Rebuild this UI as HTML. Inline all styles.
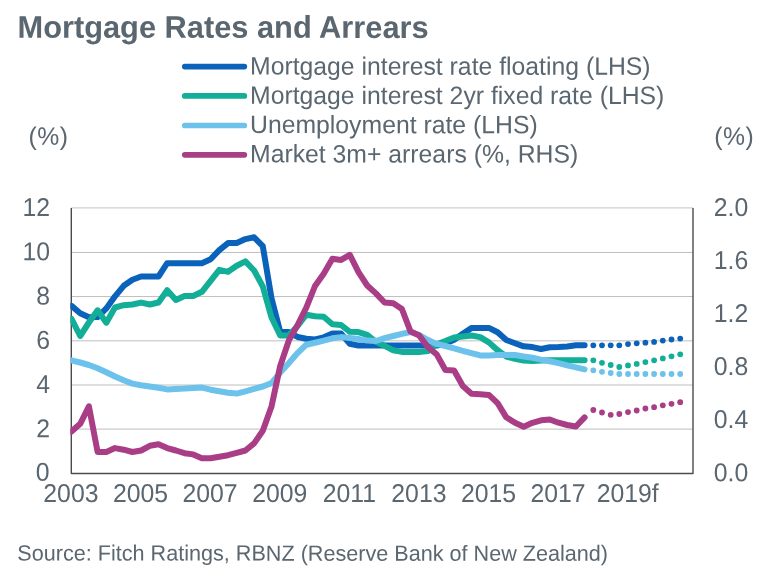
<!DOCTYPE html>
<html lang="en"><head><meta charset="utf-8"><title>Mortgage Rates and Arrears</title>
<style>
html,body{margin:0;padding:0;background:#fff;}
body{width:764px;height:573px;overflow:hidden;}
svg{display:block;}
</style></head>
<body>
<svg width="764" height="573" viewBox="0 0 764 573">
<rect width="764" height="573" fill="#fff"/>
<defs><clipPath id="plot"><rect x="70.3" y="207.8" width="622.7" height="265.7"/></clipPath></defs>
<g stroke="#bebebe" stroke-width="1">
<line x1="71.3" x2="693.0" y1="429.10" y2="429.10"/>
<line x1="71.3" x2="693.0" y1="385.00" y2="385.00"/>
<line x1="71.3" x2="693.0" y1="340.85" y2="340.85"/>
<line x1="71.3" x2="693.0" y1="296.55" y2="296.55"/>
<line x1="71.3" x2="693.0" y1="252.45" y2="252.45"/>
<line x1="71.3" x2="693.0" y1="207.80" y2="207.80" stroke="#cfcfcf" stroke-width="1.2"/>
</g>
<g stroke="#4c4c4c" stroke-width="1.4" fill="none">
<path d="M71.3,208.1 V473.5 H693.0 V208.1" stroke-linejoin="round"/>
</g>
<g clip-path="url(#plot)">
<path d="M71.5,305.9 L80.2,313.2 L88.9,317.3 L97.6,317.1 L106.3,308.4 L115.0,296.3 L123.7,285.8 L132.4,279.7 L141.1,276.5 L149.8,276.5 L158.5,276.5 L167.2,263.2 L175.9,263.2 L184.5,263.2 L193.2,263.2 L201.9,263.2 L210.6,259.2 L219.3,250.1 L228.0,243.1 L236.7,243.1 L245.4,239.1 L254.1,237.3 L262.8,246.2 L271.5,298.3 L280.2,331.8 L288.9,332.1 L297.6,337.0 L306.3,338.8 L315.0,339.4 L323.7,337.3 L332.4,333.6 L341.1,333.6 L349.8,343.8 L358.5,345.6 L367.2,345.6 L375.9,345.6 L384.6,345.6 L393.3,345.6 L401.9,345.6 L410.6,345.6 L419.3,345.6 L428.0,345.6 L436.7,345.6 L445.4,343.6 L454.1,339.7 L462.8,333.8 L471.5,327.9 L480.2,327.9 L488.9,327.9 L497.6,332.2 L506.3,340.0 L515.0,343.2 L523.7,346.3 L532.4,347.1 L541.1,349.0 L549.8,347.2 L558.5,346.9 L567.2,346.4 L575.9,345.3 L584.6,345.3" fill="none" stroke="#0b62ba" stroke-width="6.0" stroke-linejoin="round" stroke-linecap="round"/>
<g fill="#0b62ba"><circle cx="593.3" cy="345.3" r="2.88"/><circle cx="602.0" cy="345.3" r="2.88"/><circle cx="610.7" cy="345.3" r="2.88"/><circle cx="619.3" cy="345.3" r="2.88"/><circle cx="628.0" cy="344.1" r="2.88"/><circle cx="636.7" cy="343.3" r="2.88"/><circle cx="645.4" cy="342.7" r="2.88"/><circle cx="654.1" cy="341.9" r="2.88"/><circle cx="662.8" cy="340.6" r="2.88"/><circle cx="671.5" cy="339.5" r="2.88"/><circle cx="680.2" cy="338.6" r="2.88"/></g>

<path d="M71.5,318.8 L80.2,336.0 L88.9,322.5 L97.6,310.3 L106.3,322.7 L115.0,307.5 L123.7,305.2 L132.4,304.5 L141.1,302.6 L149.8,304.5 L158.5,302.5 L167.2,290.2 L175.9,300.0 L184.5,296.0 L193.2,296.0 L201.9,291.8 L210.6,280.8 L219.3,269.8 L228.0,271.8 L236.7,265.8 L245.4,261.4 L254.1,270.5 L262.8,286.5 L271.5,317.5 L280.2,335.5 L288.9,335.4 L297.6,326.0 L306.3,314.7 L315.0,316.3 L323.7,316.7 L332.4,324.2 L341.1,325.0 L349.8,331.8 L358.5,332.1 L367.2,334.8 L375.9,341.8 L384.6,345.8 L393.3,350.3 L401.9,351.9 L410.6,351.9 L419.3,351.9 L428.0,351.1 L436.7,344.2 L445.4,341.0 L454.1,337.4 L462.8,336.5 L471.5,335.5 L480.2,337.1 L488.9,342.4 L497.6,350.3 L506.3,356.5 L515.0,358.9 L523.7,360.5 L532.4,360.9 L541.1,360.6 L549.8,360.3 L558.5,360.3 L567.2,360.3 L575.9,360.3 L584.6,360.3" fill="none" stroke="#12ae98" stroke-width="6.0" stroke-linejoin="round" stroke-linecap="round"/>
<g fill="#12ae98"><circle cx="593.3" cy="360.3" r="2.88"/><circle cx="602.0" cy="362.8" r="2.88"/><circle cx="610.7" cy="365.0" r="2.88"/><circle cx="619.3" cy="367.0" r="2.88"/><circle cx="628.0" cy="365.4" r="2.88"/><circle cx="636.7" cy="363.9" r="2.88"/><circle cx="645.4" cy="362.1" r="2.88"/><circle cx="654.1" cy="360.3" r="2.88"/><circle cx="662.8" cy="358.4" r="2.88"/><circle cx="671.5" cy="356.3" r="2.88"/><circle cx="680.2" cy="354.3" r="2.88"/></g>

<path d="M71.5,360.3 L80.2,362.5 L88.9,365.0 L97.6,368.2 L106.3,372.2 L115.0,376.5 L123.7,380.3 L132.4,383.6 L141.1,385.3 L149.8,386.5 L158.5,387.8 L167.2,389.4 L175.9,388.9 L184.5,388.6 L193.2,388.1 L201.9,387.6 L210.6,389.7 L219.3,391.3 L228.0,392.8 L236.7,393.6 L245.4,391.3 L254.1,388.9 L262.8,386.5 L271.5,383.1 L280.2,372.6 L288.9,363.0 L297.6,353.0 L306.3,344.7 L315.0,342.8 L323.7,340.7 L332.4,338.3 L341.1,337.1 L349.8,337.9 L358.5,339.0 L367.2,340.6 L375.9,341.0 L384.6,338.2 L393.3,336.0 L401.9,333.9 L410.6,332.0 L419.3,335.0 L428.0,340.0 L436.7,343.9 L445.4,346.0 L454.1,348.4 L462.8,350.8 L471.5,353.1 L480.2,355.4 L488.9,355.4 L497.6,355.0 L506.3,355.0 L515.0,355.0 L523.7,356.5 L532.4,357.8 L541.1,359.6 L549.8,361.2 L558.5,363.1 L567.2,365.3 L575.9,367.3 L584.6,369.4" fill="none" stroke="#6cc2ea" stroke-width="6.0" stroke-linejoin="round" stroke-linecap="round"/>
<g fill="#6cc2ea"><circle cx="593.3" cy="370.3" r="2.88"/><circle cx="602.0" cy="371.8" r="2.88"/><circle cx="610.7" cy="373.0" r="2.88"/><circle cx="619.3" cy="374.0" r="2.88"/><circle cx="628.0" cy="374.0" r="2.88"/><circle cx="636.7" cy="374.0" r="2.88"/><circle cx="645.4" cy="374.0" r="2.88"/><circle cx="654.1" cy="374.0" r="2.88"/><circle cx="662.8" cy="374.0" r="2.88"/><circle cx="671.5" cy="374.0" r="2.88"/><circle cx="680.2" cy="374.0" r="2.88"/></g>

<path d="M71.5,431.5 L80.2,423.8 L88.9,406.3 L97.6,452.0 L106.3,452.0 L115.0,448.1 L123.7,449.7 L132.4,452.0 L141.1,450.5 L149.8,445.8 L158.5,444.2 L167.2,448.1 L175.9,450.5 L184.5,453.2 L193.2,454.4 L201.9,458.3 L210.6,458.3 L219.3,456.8 L228.0,455.2 L236.7,452.8 L245.4,450.5 L254.1,443.4 L262.8,430.8 L271.5,406.5 L280.2,366.0 L288.9,340.2 L297.6,325.0 L306.3,307.6 L315.0,286.0 L323.7,273.7 L332.4,258.8 L341.1,259.9 L349.8,254.8 L358.5,272.1 L367.2,285.5 L375.9,293.4 L384.6,302.5 L393.3,303.3 L401.9,309.0 L410.6,331.6 L419.3,335.6 L428.0,347.3 L436.7,354.4 L445.4,370.0 L454.1,370.5 L462.8,386.0 L471.5,393.8 L480.2,394.2 L488.9,394.9 L497.6,403.2 L506.3,417.3 L515.0,422.8 L523.7,426.7 L532.4,422.8 L541.1,420.3 L549.8,419.5 L558.5,422.7 L567.2,425.0 L575.9,426.5 L584.6,417.4" fill="none" stroke="#a93d86" stroke-width="6.0" stroke-linejoin="round" stroke-linecap="round"/>
<g fill="#a93d86"><circle cx="593.3" cy="410.0" r="2.88"/><circle cx="602.0" cy="412.5" r="2.88"/><circle cx="610.7" cy="414.8" r="2.88"/><circle cx="619.3" cy="414.0" r="2.88"/><circle cx="628.0" cy="412.1" r="2.88"/><circle cx="636.7" cy="410.5" r="2.88"/><circle cx="645.4" cy="408.5" r="2.88"/><circle cx="654.1" cy="407.2" r="2.88"/><circle cx="662.8" cy="405.3" r="2.88"/><circle cx="671.5" cy="403.8" r="2.88"/><circle cx="680.2" cy="402.2" r="2.88"/></g>

</g>
<g stroke-width="5.7" stroke-linecap="round">
<line x1="184.8" x2="244.3" y1="66.6" y2="66.6" stroke="#0b62ba"/>
<line x1="184.8" x2="244.3" y1="95.9" y2="95.9" stroke="#12ae98"/>
<line x1="184.8" x2="244.3" y1="125.5" y2="125.5" stroke="#6cc2ea"/>
<line x1="184.8" x2="244.3" y1="154.8" y2="154.8" stroke="#a93d86"/>
</g>
<g font-family="'Liberation Sans', Arial, Helvetica, sans-serif" font-size="24.78" fill="#5a6670">
<text transform="translate(17.5,37.7) rotate(0.03) scale(1,1.015)" font-weight="bold" font-size="30.8">Mortgage Rates and Arrears</text>
<text transform="translate(250,74.6) rotate(0.03) scale(1,1.015)">Mortgage interest rate floating (LHS)</text>
<text transform="translate(250,103.85) rotate(0.03) scale(1,1.015)">Mortgage interest 2yr fixed rate (LHS)</text>
<text transform="translate(250,133.1) rotate(0.03) scale(1,1.015)">Unemployment rate (LHS)</text>
<text transform="translate(250,162.35) rotate(0.03) scale(1,1.015)">Market 3m+ arrears (%, RHS)</text>
<text letter-spacing="0.5" transform="translate(28.6,144.8) rotate(0.03) scale(1,1.015)">(%)</text>
<text letter-spacing="0.5" transform="translate(714.2,144.8) rotate(0.03) scale(1,1.015)">(%)</text>
<text transform="translate(49.5,480.7) rotate(0.03) scale(1,1.04)" text-anchor="end">0</text>
<text transform="translate(50.1,437.32) rotate(0.03) scale(1,1.04)" text-anchor="end">2</text>
<text transform="translate(50.1,393.03) rotate(0.03) scale(1,1.04)" text-anchor="end">4</text>
<text transform="translate(50.1,348.75) rotate(0.03) scale(1,1.04)" text-anchor="end">6</text>
<text transform="translate(50.1,304.47) rotate(0.03) scale(1,1.04)" text-anchor="end">8</text>
<text transform="translate(50.1,260.18) rotate(0.03) scale(1,1.04)" text-anchor="end">10</text>
<text transform="translate(50.1,215.9) rotate(0.03) scale(1,1.04)" text-anchor="end">12</text>
<text transform="translate(748.2,481.15) rotate(0.03) scale(1,1.04)" text-anchor="end">0.0</text>
<text transform="translate(748.2,428.1) rotate(0.03) scale(1,1.04)" text-anchor="end">0.4</text>
<text transform="translate(748.2,375.05) rotate(0.03) scale(1,1.04)" text-anchor="end">0.8</text>
<text transform="translate(748.2,322.0) rotate(0.03) scale(1,1.04)" text-anchor="end">1.2</text>
<text transform="translate(748.2,268.95) rotate(0.03) scale(1,1.04)" text-anchor="end">1.6</text>
<text transform="translate(748.2,215.9) rotate(0.03) scale(1,1.04)" text-anchor="end">2.0</text>
<text transform="translate(70.9,502.0) rotate(0.03) scale(1,1.04)" text-anchor="middle">2003</text>
<text transform="translate(140.5,502.0) rotate(0.03) scale(1,1.04)" text-anchor="middle">2005</text>
<text transform="translate(210.1,502.0) rotate(0.03) scale(1,1.04)" text-anchor="middle">2007</text>
<text transform="translate(279.7,502.0) rotate(0.03) scale(1,1.04)" text-anchor="middle">2009</text>
<text transform="translate(349.3,502.0) rotate(0.03) scale(1,1.04)" text-anchor="middle">2011</text>
<text transform="translate(418.9,502.0) rotate(0.03) scale(1,1.04)" text-anchor="middle">2013</text>
<text transform="translate(488.5,502.0) rotate(0.03) scale(1,1.04)" text-anchor="middle">2015</text>
<text transform="translate(558.1,502.0) rotate(0.03) scale(1,1.04)" text-anchor="middle">2017</text>
<text transform="translate(627.7,502.0) rotate(0.03) scale(1,1.04)" text-anchor="middle">2019f</text>
<text transform="translate(17.3,560.5) rotate(0.03) scale(1,1.015)" font-size="21.62">Source: Fitch Ratings, RBNZ (Reserve Bank of New Zealand)</text>
</g>
</svg>
</body></html>
